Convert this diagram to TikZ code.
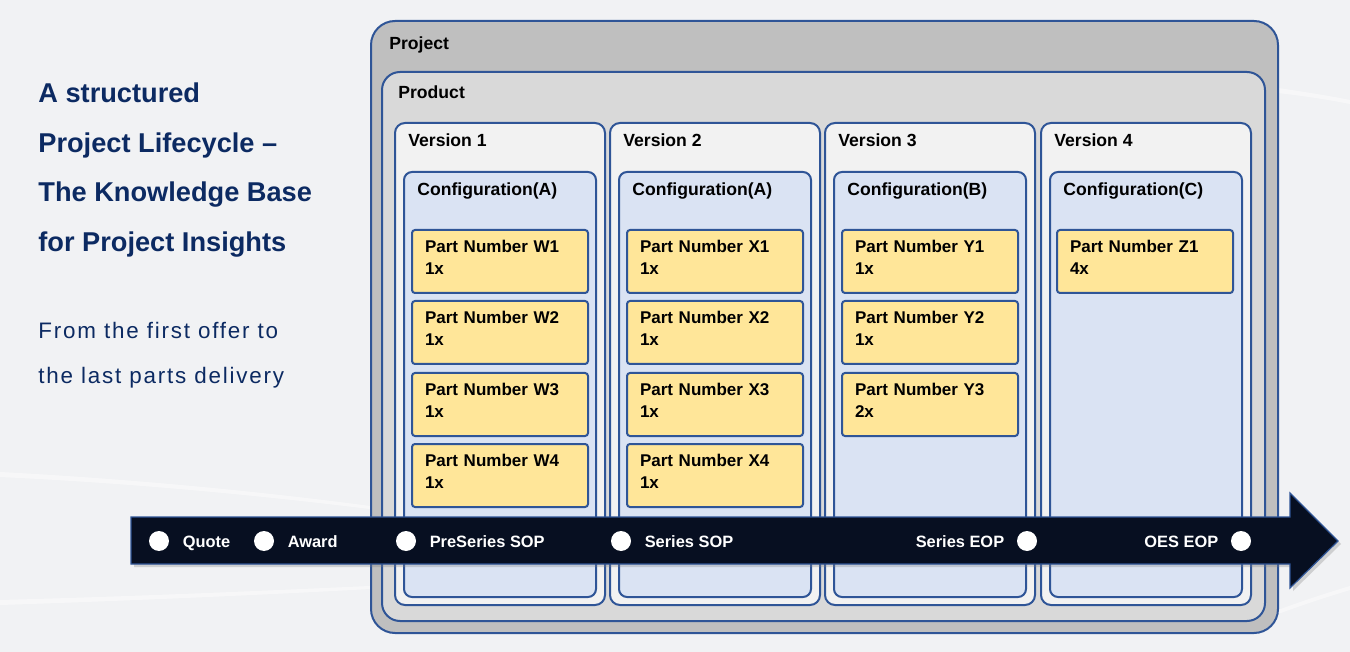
\documentclass[tikz,border=0pt]{standalone}
\usepackage{fontspec}
\setmainfont{Liberation Sans}
\setsansfont{Liberation Sans}
\usetikzlibrary{positioning, shadows}
\definecolor{cblue}{HTML}{2F5597}
\definecolor{cnavy}{HTML}{0C2A62}
\definecolor{cproject}{HTML}{BFBFBF}
\definecolor{cproduct}{HTML}{D9D9D9}
\definecolor{cversion}{HTML}{F2F2F2}
\definecolor{cconfig}{HTML}{DAE3F3}
\definecolor{cpart}{HTML}{FFE699}
\definecolor{carrow}{HTML}{070F21}
\definecolor{cbg}{HTML}{F1F2F4}
\tikzset{
  every picture/.style={font=\sffamily\bfseries},
  boxframe/.style={draw=cblue, line width=1pt, fill=#1, anchor=north west, inner sep=0pt},
  boxlabel/.style={anchor=base west, inner sep=0pt, font=\sffamily\bfseries\fontsize{8.8}{10}\selectfont},
  partbox/.style={boxframe=cpart, rounded corners=1.5pt, text width=75pt, inner xsep=6.5pt, minimum height=31.5pt, text depth=15pt, align=left, font=\sffamily\bfseries\fontsize{8.5}{11}\selectfont},
  timeline/.style={fill=carrow, draw=cblue, line width=0.6pt},
  msdot/.style={circle, fill=white, minimum size=10pt, inner sep=0pt},
  milestone/.style={text=white, inner sep=0pt, font=\sffamily\bfseries\fontsize{8.2}{10}\selectfont},
  title/.style={anchor=base west, inner sep=0pt, text=cnavy, font=\sffamily\bfseries\fontsize{13.6}{16}\selectfont},
  subtitle/.style={anchor=base west, inner sep=0pt, text=cnavy, font=\sffamily\mdseries\fontsize{11.2}{14}\selectfont\addfontfeatures{LetterSpace=8}},
  streak/.style={fill=white, opacity=0.45},
}

\begin{document}
\begin{tikzpicture}[x=0.5pt, y=-0.5pt]
  \useasboundingbox (0,0) rectangle (1350,652);
  \fill[cbg] (0,0) rectangle (1350,652);
  % faint streaks in the background
  \fill[streak] (0,472) .. controls (150,480) and (280,494) .. (370,506) -- (370,509) .. controls (280,498) and (150,484) .. (0,477) -- cycle;
  \fill[streak] (0,600) .. controls (150,596) and (280,590) .. (370,586) -- (370,589) .. controls (280,594) and (150,600) .. (0,605) -- cycle;
  \fill[streak] (1278,88) .. controls (1305,92) and (1330,96) .. (1350,100) -- (1350,104) .. controls (1330,100) and (1305,96) .. (1278,93) -- cycle;
  \fill[streak] (1278,610) .. controls (1305,600) and (1330,592) .. (1350,586) -- (1350,590) .. controls (1330,596) and (1305,604) .. (1278,614) -- cycle;

  % left text
  \foreach \txt [count=\i] in {A structured, Project Lifecycle –, The Knowledge Base, for Project Insights}
    \node[title] (title\i) at (38,103+49.5*\i-49.5) {\txt};
  \node[subtitle] (sub1) at (38,339) {From the first offer to};
  \node[subtitle] (sub2) at (38,384) {the last parts delivery};

  % nested boxes
  \node[boxframe=cproject, rounded corners=12pt, minimum width=453.5pt, minimum height=306pt] (project) at (370,20) {};
  \node[boxlabel] (lbproject) at ([shift={(19,30)}]project.north west) {Project};
  \node[boxframe=cproduct, rounded corners=9pt, minimum width=441.5pt, minimum height=274.5pt] (product) at (381,71) {};
  \node[boxlabel] (lbproduct) at ([shift={(17,28)}]product.north west) {Product};
  \foreach \vx/\vn/\cf in {394/1/A, 609/2/A, 824/3/B, 1040/4/C} {
    \node[boxframe=cversion, rounded corners=5pt, minimum width=105pt, minimum height=241pt] (ver\vn) at (\vx,122) {};
    \node[boxlabel] (lbver\vn) at ([shift={(14,24.5)}]ver\vn.north west) {Version \vn};
    \node[boxframe=cconfig, rounded corners=4pt, minimum width=96pt, minimum height=212.5pt] (cfg\vn) at (\vx+9,171) {};
    \node[boxlabel] (lbcfg\vn) at ([shift={(14,25)}]cfg\vn.north west) {Configuration(\cf)};
  }
  \foreach \px/\py/\pn/\pq in {411/229/W1/1x, 411/300/W2/1x, 411/372/W3/1x, 411/443/W4/1x,
                               626/229/X1/1x, 626/300/X2/1x, 626/372/X3/1x, 626/443/X4/1x,
                               841/229/Y1/1x, 841/300/Y2/1x, 841/372/Y3/2x,
                               1056/229/Z1/4x}
    \node[partbox] (p\pn) at (\px,\py) {Part Number \pn\\\pq};

  % timeline arrow
  \draw[timeline, drop shadow={opacity=0.3, shadow xshift=1.5pt, shadow yshift=-1.5pt}]
    (131,517) -- (1290,517) -- (1290,493) -- (1338,541) -- (1290,588) -- (1290,564) -- (131,564) -- cycle;
  \foreach \mx/\mn/\mt in {159/quote/Quote, 264/award/Award, 406/preseries/PreSeries SOP, 621/series/Series SOP} {
    \node[msdot] (\mn) at (\mx,541) {};
    \node[milestone, anchor=base west] (lb\mn) at ([shift={(13,6.5)}]\mn.east) {\mt};
  }
  \foreach \mx/\mn/\mt in {1027/serieseop/Series EOP, 1241/oeseop/OES EOP} {
    \node[msdot] (\mn) at (\mx,541) {};
    \node[milestone, anchor=base east] (lb\mn) at ([shift={(-12,6.5)}]\mn.west) {\mt};
  }
\end{tikzpicture}
\end{document}
